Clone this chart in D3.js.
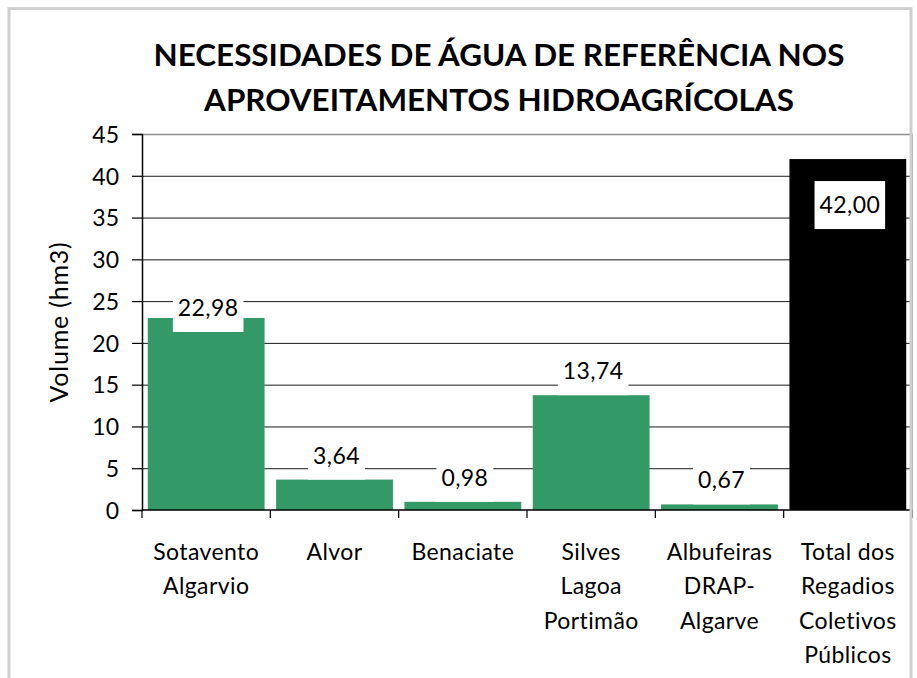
<!DOCTYPE html>
<html>
<head>
<meta charset="utf-8">
<script src="https://cdn.jsdelivr.net/npm/d3@7"></script>
<style>
  html, body { margin: 0; padding: 0; background: #fff; }
  svg text { font-family: Lato, "Open Sans", sans-serif; fill: #000; }
</style>
</head>
<body>
<svg id="chart" width="917" height="678"></svg>
<script>
// data
var titleLines = ["NECESSIDADES DE ÁGUA DE REFERÊNCIA NOS", "APROVEITAMENTOS HIDROAGRÍCOLAS"];
var categories = ["Sotavento Algarvio", "Alvor", "Benaciate", "Silves Lagoa Portimão", "Albufeiras DRAP-Algarve", "Total dos Regadios Coletivos Públicos"];
var categoryLines = [["Sotavento", "Algarvio"], ["Alvor"], ["Benaciate"], ["Silves", "Lagoa", "Portimão"], ["Albufeiras", "DRAP-", "Algarve"], ["Total dos", "Regadios", "Coletivos", "Públicos"]];
var values = [22.98, 3.64, 0.98, 13.74, 0.67, 42.00];
var yTicks = [0, 5, 10, 15, 20, 25, 30, 35, 40, 45];
var yTitle = "Volume (hm3)";

var svg = d3.select("#chart"),
    margin = {top: 134, right: 5, bottom: 168, left: 142},
    width = +svg.attr("width") - margin.left - margin.right,
    height = +svg.attr("height") - margin.top - margin.bottom;

var data = categories.map(function(c, i) { return {cat: c, lines: categoryLines[i], value: values[i]}; });

var x = d3.scaleBand().domain(categories).range([0, width]).paddingInner(0.09).paddingOuter(0.045);
var y = d3.scaleLinear().domain([0, 45]).range([height, 0]);

var green = "#339966";
function isTotal(d) { return d.cat.indexOf("Total") === 0; }

// title
svg.append("g").selectAll("text")
  .data(titleLines)
  .enter().append("text")
  .attr("x", 499)
  .attr("y", function(d, i) { return 66 + i * 45; })
  .attr("text-anchor", "middle")
  .style("font-size", "31.4px")
  .style("font-weight", "bold")
  .text(function(d) { return d; });

var g = svg.append("g")
  .attr("transform", "translate(" + margin.left + "," + margin.top + ")");

// gridlines
g.append("g").attr("class", "grid")
  .selectAll("line")
  .data(yTicks.filter(function(t) { return t > 0 && t < 45; }))
  .enter().append("line")
  .attr("x1", 0).attr("x2", width)
  .attr("y1", function(d) { return y(d) + 0.5; })
  .attr("y2", function(d) { return y(d) + 0.5; })
  .attr("stroke", "#1a1a1a").attr("stroke-width", 1);

// plot area top / right edge
g.append("path")
  .attr("d", "M0," + (y(45) + 0.5) + "H" + width + "V" + height)
  .attr("fill", "none").attr("stroke", "#8c8c8c").attr("stroke-width", 1.5);

// bars
g.selectAll(".bar")
  .data(data)
  .enter().append("rect")
  .attr("class", "bar")
  .attr("x", function(d) { return x(d.cat); })
  .attr("width", x.bandwidth())
  .attr("y", function(d) { return y(d.value); })
  .attr("height", function(d) { return height - y(d.value); })
  .attr("fill", function(d) { return isTotal(d) ? "#000" : green; });

// y axis
var yAxis = d3.axisLeft(y).tickValues(yTicks).tickSize(10).tickPadding(13);
var ya = g.append("g").attr("class", "axis axis--y").call(yAxis);
ya.select(".domain").attr("stroke", "#000").attr("stroke-width", 1.5);
ya.selectAll(".tick line").attr("stroke", "#000").attr("stroke-width", 1.2);
ya.selectAll("text").style("font-size", "23px").attr("dy", "0.36em")
  .style("font-family", "Lato, sans-serif");

// x axis: baseline plus ticks at category boundaries
var step = x.step();
g.append("line")
  .attr("x1", 0).attr("x2", width)
  .attr("y1", height).attr("y2", height)
  .attr("stroke", "#000").attr("stroke-width", 1.5);
g.append("g").selectAll("line")
  .data(d3.range(categories.length + 1))
  .enter().append("line")
  .attr("x1", function(i) { return i * step; })
  .attr("x2", function(i) { return i * step; })
  .attr("y1", height).attr("y2", height + 8)
  .attr("stroke", "#000").attr("stroke-width", 1.2);

// category labels
var cl = g.append("g").selectAll("text")
  .data(data)
  .enter().append("text")
  .attr("text-anchor", "middle")
  .attr("transform", function(d) { return "translate(" + (x(d.cat) + x.bandwidth() / 2) + "," + (height + 50) + ")"; })
  .style("font-size", "23px")
  .style("letter-spacing", "0.4px");
cl.selectAll("tspan")
  .data(function(d) { return d.lines; })
  .enter().append("tspan")
  .attr("x", 0)
  .attr("y", function(d, i) { return i * 34.3; })
  .text(function(d) { return d; });

// data labels with white boxes
var fmt = function(v) { return d3.format(".2f")(v).replace(".", ","); };
var nudge = {"Sotavento Algarvio": 14};
var lab = g.append("g").selectAll("g")
  .data(data)
  .enter().append("g")
  .attr("transform", function(d) {
    var top = isTotal(d) ? y(d.value) + 22 : y(d.value) - 48 + (nudge[d.cat] || 0);
    return "translate(" + (x(d.cat) + x.bandwidth() / 2 + 2) + "," + top + ")";
  });
lab.append("rect").attr("fill", "#fff");
lab.append("text")
  .attr("text-anchor", "middle")
  .attr("y", 32)
  .style("font-size", "23px")
  .style("letter-spacing", "0.4px")
  .text(function(d) { return fmt(d.value); });
lab.each(function() {
  var gg = d3.select(this);
  var w = gg.select("text").node().getComputedTextLength() + 10;
  gg.select("rect").attr("x", -w / 2).attr("y", 0).attr("width", w).attr("height", 48);
});

// y axis title
svg.append("text")
  .attr("transform", "translate(68," + (margin.top + height / 2) + ") rotate(-90)")
  .attr("text-anchor", "middle")
  .style("font-size", "25px")
  .style("letter-spacing", "0.8px")
  .text(yTitle);

// outer chart border
svg.append("rect")
  .attr("x", 9).attr("y", 8.5)
  .attr("width", 902).attr("height", 690)
  .attr("fill", "none").attr("stroke", "#d0d0d0").attr("stroke-width", 3);
</script>
</body>
</html>
